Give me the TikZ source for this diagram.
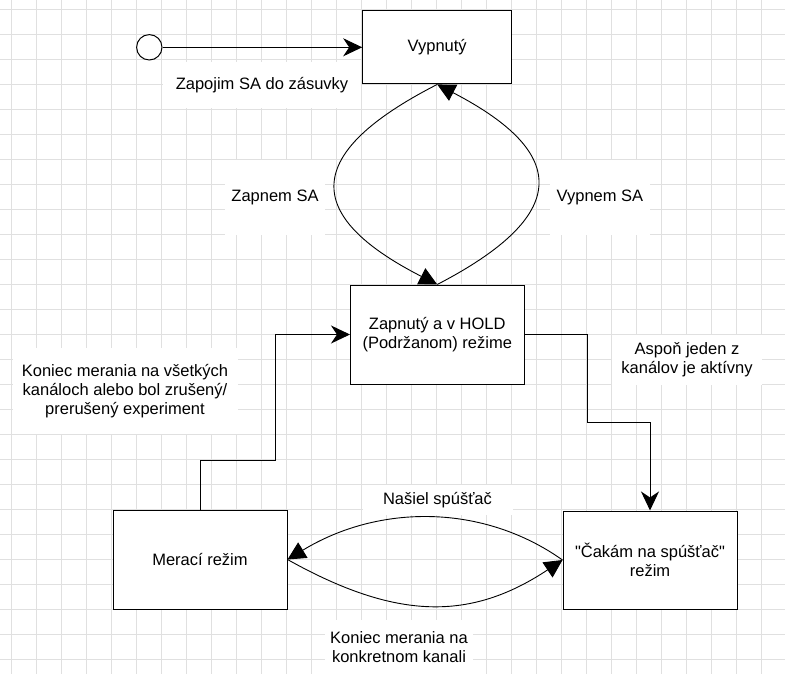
\documentclass[tikz,border=0pt]{standalone}
\usepackage{fontspec}
\setmainfont{Liberation Sans}
\usetikzlibrary{arrows.meta}

\tikzset{
  stav/.style={draw, line width=1pt, fill=white, align=center, inner sep=0pt},
  popis/.style={fill=white, align=center, inner sep=0pt},
  spoj/.style={line width=1pt, -{Stealth[length=19pt,width=18pt,inset=6pt]}},
  obluk/.style={line width=0.9pt, -{Triangle[length=18pt,width=18pt]}},
  mriezka/.style={line width=1.3pt, black!12}
}

\begin{document}
\begin{tikzpicture}[x=1pt, y=-1pt, font=\fontsize{16.5}{19}\selectfont]
        \useasboundingbox (0,0) rectangle (785,674);
        \fill[white] (0,0) rectangle (785,674);
        % mriezka v pozadi
        \foreach \i in {0,...,31}
        \draw[mriezka] ({11.7+25*\i},0) -- ({11.7+25*\i},674);
        \foreach \j in {0,...,26}
        \draw[mriezka] (0,{9.3+25*\j}) -- (785,{9.3+25*\j});

        % popisy prechodov
        \node[popis, minimum width=198, minimum height=46] (pZapojim) at (262,85) {Zapojim SA do zásuvky};
        \node[popis, minimum width=100, minimum height=75] (pZapnem) at (275,197.5) {Zapnem SA};
        \node[popis, minimum width=100, minimum height=75] (pVypnem) at (600,197.5) {Vypnem SA};
        \node[popis, minimum width=150, minimum height=50] (pAspon) at (687,360) {Aspoň jeden z\\kanálov je aktívny};
        \node[popis, minimum width=225, minimum height=86] (pKoniec) at (125,391) {Koniec merania na všetkých\\kanáloch alebo bol zrušený/\\prerušený experiment};
        \node[popis, minimum width=150, minimum height=30] (pNasiel) at (437.5,500) {Našiel spúšťač};
        \node[popis, minimum width=148, minimum height=56] (pKanal) at (399,647.5) {Koniec merania na\\konkretnom kanali};

        % stavy
        \node[draw, circle, line width=1pt, fill=white, minimum size=25.4, inner sep=0pt] (zac) at (149.3,47.3) {};
        \node[stav, minimum width=149, minimum height=73.3] (vyp) at (437.2,47.3) {Vypnutý};
        \node[stav, minimum width=173.5, minimum height=99] (zap) at (437.25,334.5) {Zapnutý a v HOLD\\(Podržanom) režime};
        \node[stav, minimum width=174, minimum height=99] (mer) at (200,559.5) {Merací režim};
        \node[stav, minimum width=174, minimum height=98] (cak) at (650,560) {\textquotedbl Čakám na spúšťač\textquotedbl\\režim};

        % prechody
        \draw[spoj] (zac) -- (vyp);
        \draw[obluk] (vyp.south) .. controls +(-135,69) and +(-135,-69) .. (zap.north);
        \draw[obluk] (zap.north) .. controls +(133,-69) and +(133,69) .. (vyp.south);
        \coordinate (ohyb1) at (275,460);
        \coordinate (ohyb2) at (587,422);
        \draw[spoj] (mer.north) |- (ohyb1) |- (zap.west);
        \draw[spoj] (zap.east) -| (ohyb2) -| (cak.north);
        \draw[obluk] (cak.west) .. controls +(-79,-56) and +(92,-56) .. (mer.east);
        \draw[obluk] (mer.east) .. controls +(109,61) and +(-92,61) .. (cak.west);
    \end{tikzpicture}
\end{document}
